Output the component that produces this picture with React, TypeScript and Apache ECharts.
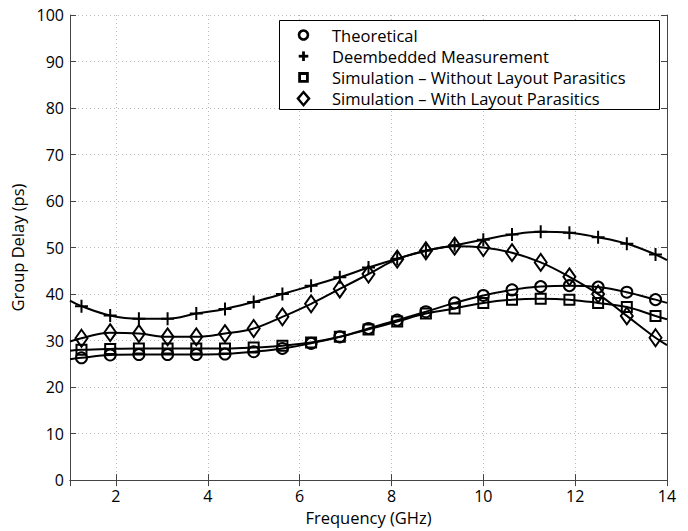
import React, { useEffect, useRef } from "react";
import * as echarts from "echarts";

const freqs = [1.25, 1.875, 2.5, 3.125, 3.75, 4.375, 5.0, 5.625, 6.25, 6.875, 7.5, 8.125, 8.75, 9.375, 10.0, 10.625, 11.25, 11.875, 12.5, 13.125, 13.75];
const freqStart = 1;
const freqEnd = 14;

const theoretical = [26.3, 26.9, 27.0, 27.0, 27.0, 27.1, 27.6, 28.3, 29.4, 30.8, 32.6, 34.4, 36.2, 38.1, 39.7, 40.9, 41.6, 41.8, 41.5, 40.4, 38.8];
const theoreticalEdges = [26.0, 38.1];

const measurement = [37.4, 35.4, 34.7, 34.7, 35.8, 36.8, 38.3, 40.0, 41.8, 43.6, 45.7, 47.6, 49.3, 50.5, 51.7, 52.8, 53.4, 53.2, 52.2, 50.8, 48.5];
const measurementEdges = [38.6, 47.3];

const simNoParasitics = [28.0, 28.2, 28.3, 28.3, 28.3, 28.3, 28.5, 28.9, 29.6, 30.8, 32.4, 34.1, 35.8, 36.9, 38.1, 38.8, 39.0, 38.8, 38.1, 37.2, 35.3];
const simNoParasiticsEdges = [27.8, 34.6];

const simParasitics = [30.5, 31.7, 31.5, 30.8, 30.8, 31.5, 32.6, 35.1, 37.9, 41.1, 44.3, 47.5, 49.3, 50.3, 50.0, 48.9, 46.8, 43.7, 40.0, 35.3, 30.6];
const simParasiticsEdges = [29.8, 29.0];

const seriesNames = [
  "Theoretical",
  "Deembedded Measurement",
  "Simulation \u2013 Without Layout Parasitics",
  "Simulation \u2013 With Layout Parasitics",
];

const PLUS = "path://M5,0 L5,10 M0,5 L10,5";
const FONT = "Open Sans";

function buildData(values: number[], edges: number[]) {
  const pts: any[] = [{ value: [freqStart, edges[0]], symbol: "none" }];
  values.forEach((v, i) => pts.push({ value: [freqs[i], v] }));
  pts.push({ value: [freqEnd, edges[1]], symbol: "none" });
  return pts;
}

function legendGraphic() {
  const boxL = 279.5, boxT = 20.5, boxR = 659.5, boxB = 109.5;
  const iconX = 303.5;
  const textX = 332;
  const rows = [35, 56.2, 77.4, 98.6];
  const stroke = { stroke: "#000", lineWidth: 2.6, fill: "none" };
  const Z = 10;
  const children: any[] = [
    { type: "rect", z: Z, shape: { x: boxL, y: boxT, width: boxR - boxL, height: boxB - boxT }, style: { fill: "#fff", stroke: "#000", lineWidth: 1 } },
    { type: "circle", z: Z, shape: { cx: iconX, cy: rows[0], r: 4.5 }, style: stroke },
    { type: "line", z: Z, shape: { x1: iconX - 4.8, y1: rows[1], x2: iconX + 4.8, y2: rows[1] }, style: { stroke: "#000", lineWidth: 2.8 } },
    { type: "line", z: Z, shape: { x1: iconX, y1: rows[1] - 4.8, x2: iconX, y2: rows[1] + 4.8 }, style: { stroke: "#000", lineWidth: 2.8 } },
    { type: "rect", z: Z, shape: { x: iconX - 3.9, y: rows[2] - 3.9, width: 7.8, height: 7.8 }, style: { ...stroke, lineWidth: 2.8 } },
    { type: "polygon", z: Z, shape: { points: [[iconX, rows[3] - 6.6], [iconX + 5.6, rows[3]], [iconX, rows[3] + 6.6], [iconX - 5.6, rows[3]]] }, style: { ...stroke, lineWidth: 2.4 } },
  ];
  seriesNames.forEach((n, i) => {
    children.push({
      type: "text",
      z: Z,
      x: textX,
      y: rows[i],
      style: { text: n, fill: "#000", font: `16.5px "${FONT}"`, lineHeight: 18, textAlign: "left", textVerticalAlign: "middle" },
    });
  });
  return children;
}

export default function App() {
  const ref = useRef<HTMLDivElement>(null);
  useEffect(() => {
    if (!ref.current) return;
    const chart = echarts.init(ref.current, null, { renderer: "svg" });
    const markerStyle = { color: "none", borderColor: "#000", borderWidth: 2 };
    const mk = (name: string, values: number[], edges: number[], symbol: string, size: any) => ({
      name,
      type: "line",
      data: buildData(values, edges),
      smooth: 0.4,
      symbol,
      symbolSize: size,
      showAllSymbol: true,
      lineStyle: { color: "#000", width: 2 },
      itemStyle: markerStyle,
      emphasis: { disabled: true },
      z: 3,
    });
    const axisText = { color: "#000", fontFamily: FONT, fontSize: 16 };
    chart.setOption({
      animation: false,
      backgroundColor: "#fff",
      grid: { left: 70, right: 21, top: 15, bottom: 46, containLabel: false },
      xAxis: [
        {
          type: "value",
          min: freqStart,
          max: freqEnd,
          splitNumber: 7,
          name: "Frequency (GHz)",
          nameLocation: "middle",
          nameGap: 25,
          nameTextStyle: { ...axisText, fontSize: 16.5 },
          axisLine: { show: true, lineStyle: { color: "#444", width: 1 } },
          axisTick: { show: true, inside: true, length: 6, lineStyle: { color: "#444" } },
          axisLabel: { ...axisText, margin: 8, formatter: (v: number) => (v % 2 === 0 ? String(v) : "") },
          splitLine: { show: true, lineStyle: { color: "#bbb", type: [1, 3], width: 1 } },
        },
        {
          type: "value",
          position: "top",
          min: freqStart,
          max: freqEnd,
          splitNumber: 7,
          axisLine: { show: true, lineStyle: { color: "#444", width: 1 } },
          axisTick: { show: true, inside: true, length: 6, lineStyle: { color: "#444" } },
          axisLabel: { show: false },
          splitLine: { show: false },
        },
      ],
      yAxis: [
        {
          type: "value",
          min: 0,
          max: 100,
          interval: 10,
          name: "Group Delay (ps)",
          nameLocation: "middle",
          nameGap: 30,
          nameTextStyle: { ...axisText, fontSize: 16.5 },
          axisLine: { show: true, lineStyle: { color: "#444", width: 1 } },
          axisTick: { show: true, inside: true, length: 6, lineStyle: { color: "#444" } },
          axisLabel: { ...axisText, margin: 6 },
          splitLine: { show: true, lineStyle: { color: "#bbb", type: [1, 3], width: 1 } },
        },
        {
          type: "value",
          position: "right",
          min: 0,
          max: 100,
          interval: 10,
          axisLine: { show: true, lineStyle: { color: "#444", width: 1 } },
          axisTick: { show: true, inside: true, length: 6, lineStyle: { color: "#444" } },
          axisLabel: { show: false },
          splitLine: { show: false },
        },
      ],
      legend: { show: false, data: seriesNames },
      graphic: legendGraphic(),
      series: [
        mk(seriesNames[0], theoretical, theoreticalEdges, "circle", 11),
        mk(seriesNames[1], measurement, measurementEdges, PLUS, 13),
        mk(seriesNames[2], simNoParasitics, simNoParasiticsEdges, "rect", 10),
        mk(seriesNames[3], simParasitics, simParasiticsEdges, "diamond", [12, 17]),
      ],
    });
    return () => chart.dispose();
  }, []);
  return <div ref={ref} style={{ width: 688, height: 531, position: "absolute", left: 0, top: 0 }} />;
}
